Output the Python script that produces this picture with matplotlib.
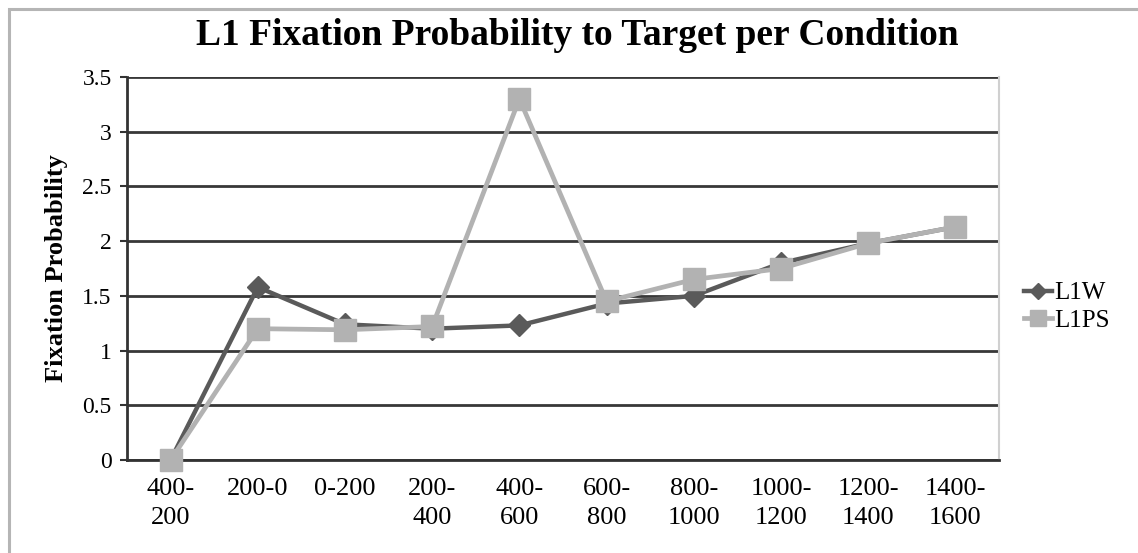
import matplotlib.pyplot as plt
from matplotlib.patches import Rectangle

# data
conditions = ["400-\n200", "200-0", "0-200", "200-\n400", "400-\n600", "600-\n800",
              "800-\n1000", "1000-\n1200", "1200-\n1400", "1400-\n1600"]
l1w = [0, 1.58, 1.24, 1.20, 1.23, 1.43, 1.50, 1.80, 1.98, 2.13]
l1ps = [0, 1.20, 1.19, 1.22, 3.30, 1.45, 1.65, 1.75, 1.98, 2.13]

plt.rcParams['font.family'] = ['Liberation Serif', 'DejaVu Serif']

fig = plt.figure(figsize=(11.38, 5.53), dpi=100)
ax = fig.add_axes([127 / 1138, 1 - 460 / 553, 872 / 1138, 383 / 553])

x = list(range(len(conditions)))
ax.plot(x, l1w, color='#5a5a5a', lw=3.2, marker='D', markersize=11, label='L1W',
        zorder=3, clip_on=False)
ax.plot(x, l1ps, color='#b2b2b2', lw=3.4, marker='s', markersize=16, label='L1PS',
        zorder=4, clip_on=False)

ax.set_xlim(-0.5, len(conditions) - 0.5)
ax.set_ylim(0, 3.5)
ax.set_yticks([0, 0.5, 1, 1.5, 2, 2.5, 3, 3.5])
ax.set_yticklabels(['0', '0.5', '1', '1.5', '2', '2.5', '3', '3.5'])
ax.set_xticks(x)
ax.set_xticklabels(conditions, linespacing=1.4)
ax.tick_params(axis='y', length=5, width=1.5, color='#333333', labelsize=17, pad=6)
ax.tick_params(axis='x', length=0, labelsize=19, pad=13)
ax.yaxis.grid(True, color='#383838', lw=2)
ax.set_axisbelow(True)
for s in ['left', 'bottom']:
    ax.spines[s].set_color('#333333')
    ax.spines[s].set_linewidth(2)
ax.spines['top'].set_visible(False)
ax.spines['right'].set_color('#d0d0d0')
ax.spines['right'].set_linewidth(1.5)

ax.set_ylabel("Fixation Probability", fontsize=19, fontweight='bold', labelpad=10)
fig.suptitle("L1 Fixation Probability to Target per Condition", fontsize=27,
             fontweight='bold', x=577 / 1138, y=0.968)

ax.legend(loc='center left', bbox_to_anchor=(1.0, 0.40), frameon=False, fontsize=18,
          handlelength=1.1, handletextpad=0.1, labelspacing=0.2, borderaxespad=0.6,
          markerscale=0.75)

fig.patches.append(Rectangle((9 / 1138, -0.1), 1.1, 1.1 - 9 / 553, transform=fig.transFigure,
                             fill=False, edgecolor='#b5b5b5', lw=2.2))

fig.savefig('out.png', dpi=100)
